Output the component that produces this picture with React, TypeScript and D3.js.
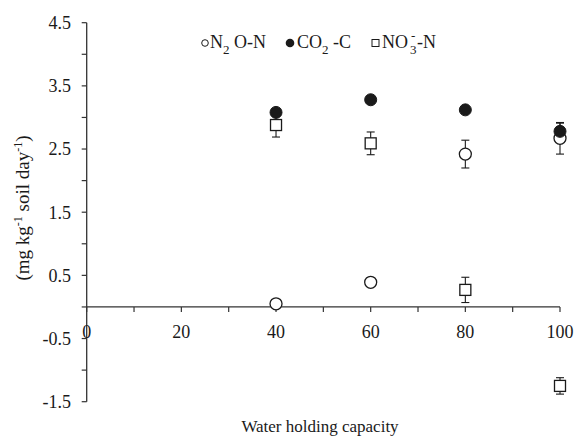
import React from 'react';
import * as d3 from 'd3';

const waterCapacity = [40, 60, 80, 100];
const n2oMean = [0.05, 0.39, 2.42, 2.67];
const n2oErr = [0, 0, 0.22, 0.25];
const co2Mean = [3.08, 3.28, 3.12, 2.78];
const co2Err = [0, 0, 0, 0.13];
const no3Mean = [2.88, 2.59, 0.27, -1.25];
const no3Err = [0.19, 0.18, 0.2, 0.13];

const xTicks = [0, 20, 40, 60, 80, 100];
const xMinor = [10, 30, 50, 70, 90];
const yTicks = [4.5, 3.5, 2.5, 1.5, 0.5, -0.5, -1.5];
const yMinor = [4, 3, 2, 1, 0, -1];

const W = 575;
const H = 437;
const font = '"Liberation Serif", "Times New Roman", serif';
const ink = '#1a1a1a';

export default function App() {
    const x = d3.scaleLinear().domain([0, 100]).range([86.7, 560]);
    const y = d3.scaleLinear().domain([-1.5, 4.5]).range([401.7, 22.7]);
    const r = 6;
    const half = 5.5;
    const cap = 4;

    const series = [
        { mean: n2oMean, err: n2oErr },
        { mean: no3Mean, err: no3Err },
        { mean: co2Mean, err: co2Err },
    ];

    const errorBars = series.flatMap((s, si) =>
        waterCapacity.map((w, i) => {
            if (!s.err[i]) return null;
            const cx = x(w);
            const y1 = y(s.mean[i] - s.err[i]);
            const y2 = y(s.mean[i] + s.err[i]);
            return (
                <g key={`e${si}-${i}`} stroke={ink} strokeWidth={1.1}>
                    <line x1={cx} x2={cx} y1={y1} y2={y2} />
                    <line x1={cx - cap} x2={cx + cap} y1={y1} y2={y1} />
                    <line x1={cx - cap} x2={cx + cap} y1={y2} y2={y2} />
                </g>
            );
        })
    );

    return (
        <svg width={W} height={H} style={{ position: 'absolute', left: 0, top: 0, background: '#fff' }}
            fontFamily={font}>
            {/* y axis */}
            <line x1={x(0)} x2={x(0)} y1={y(4.5)} y2={y(-1.5)} stroke="#333" strokeWidth={1.3} />
            {yTicks.concat(yMinor).map(t => (
                <line key={`yt${t}`} x1={x(0) - 5} x2={x(0)} y1={y(t)} y2={y(t)} stroke="#333" strokeWidth={1.2} />
            ))}
            {yTicks.map(t => (
                <text key={`yl${t}`} x={71} y={y(t)} dy="0.35em" textAnchor="end" fontSize={18} fill={ink}>
                    {t.toFixed(1)}
                </text>
            ))}

            {/* x axis */}
            <line x1={x(0)} x2={x(100)} y1={y(0)} y2={y(0)} stroke="#333" strokeWidth={1.3} />
            {xTicks.concat(xMinor).map(t => (
                <line key={`xt${t}`} x1={x(t)} x2={x(t)} y1={y(0)} y2={y(0) + 5} stroke="#333" strokeWidth={1.2} />
            ))}
            {xTicks.map(t => (
                <text key={`xl${t}`} x={x(t)} y={337.5} textAnchor="middle" fontSize={18} fill={ink}>
                    {t}
                </text>
            ))}

            {/* axis titles */}
            <text x={320} y={432} textAnchor="middle" fontSize={17} fill={ink}>Water holding capacity</text>
            <text transform="translate(29,208) rotate(-90)" textAnchor="middle" fontSize={19} fill={ink}>
                (mg kg<tspan dy={-7} fontSize={12}>-1</tspan>
                <tspan dy={7}> soil day</tspan>
                <tspan dy={-7} fontSize={12}>-1</tspan>
                <tspan dy={7}>)</tspan>
            </text>

            {errorBars}

            {/* NO3 squares */}
            {waterCapacity.map((w, i) => (
                <rect key={`s${i}`} x={x(w) - half} y={y(no3Mean[i]) - half} width={half * 2} height={half * 2}
                    fill="#fff" stroke={ink} strokeWidth={1.3} />
            ))}
            {/* N2O open circles */}
            {waterCapacity.map((w, i) => (
                <circle key={`o${i}`} cx={x(w)} cy={y(n2oMean[i])} r={r} fill="#fff" stroke={ink} strokeWidth={1.3} />
            ))}
            {/* CO2 filled circles */}
            {waterCapacity.map((w, i) => (
                <circle key={`f${i}`} cx={x(w)} cy={y(co2Mean[i])} r={r} fill={ink} stroke={ink} strokeWidth={1} />
            ))}

            {/* legend */}
            <g fontSize={18} fill={ink}>
                <circle cx={205} cy={43} r={3.3} fill="#fff" stroke={ink} strokeWidth={1} />
                <text x={210} y={48}>
                    N<tspan dy={6} fontSize={13}>2</tspan><tspan dy={-6}> O-N</tspan>
                </text>
                <circle cx={290} cy={43} r={4.3} fill={ink} />
                <text x={297} y={48}>
                    CO<tspan dy={6} fontSize={13}>2</tspan><tspan dy={-6}> -C</tspan>
                </text>
                <rect x={372} y={39.5} width={7} height={7} fill="#fff" stroke={ink} strokeWidth={1} />
                <text x={382} y={48}>NO</text>
                <text x={410} y={54} fontSize={13}>3</text>
                <text x={411} y={40} fontSize={13}>-</text>
                <text x={417} y={48}>-N</text>
            </g>
        </svg>
    );
}
